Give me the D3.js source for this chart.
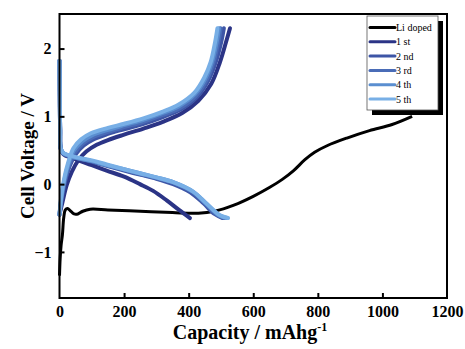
<!DOCTYPE html>
<html>
<head>
<meta charset="utf-8">
<script src="https://cdn.jsdelivr.net/npm/d3@7"></script>
<style>
  html, body { margin: 0; padding: 0; background: #fff; }
  svg { display: block; }
  text { font-family: "Liberation Serif", "Times New Roman", serif; }
</style>
</head>
<body>
<div id="chart"></div>
<script>
// Series data: [capacity mAh/g, voltage V]
const liDoped = [[0,-1.35],[2,-1.1],[5,-0.9],[9,-0.75],[13,-0.5],[18,-0.38],[25,-0.36],[33,-0.39],[45,-0.44],[57,-0.44],[72,-0.40],[95,-0.37],[150,-0.38],[250,-0.40],[350,-0.42],[430,-0.43],[480,-0.40],[540,-0.31],[600,-0.18],[650,-0.05],[690,0.07],[725,0.20],[760,0.36],[790,0.47],[830,0.57],[890,0.68],[960,0.79],[1030,0.88],[1092,1.0]];

const discharge1 = [[0,1.82],[1,1.3],[2,0.8],[4,0.52],[12,0.44],[42,0.38],[100,0.28],[146,0.2],[200,0.11],[249,0.0],[290,-0.1],[332,-0.24],[370,-0.38],[404,-0.5]];
const discharge2 = [[0,1.82],[1,1.3],[2,0.8],[4,0.52],[12,0.45],[42,0.40],[100,0.33],[146,0.27],[200,0.2],[249,0.14],[300,0.08],[352,0.0],[405,-0.12],[445,-0.28],[480,-0.44],[505,-0.5]];
const discharge3 = [[0,1.82],[1,1.3],[2,0.8],[4,0.52],[12,0.45],[42,0.40],[100,0.34],[146,0.28],[200,0.21],[249,0.15],[300,0.09],[352,0.02],[410,-0.11],[450,-0.28],[488,-0.45],[512,-0.5]];
const discharge4 = [[0,1.82],[1,1.3],[2,0.8],[4,0.52],[12,0.46],[42,0.40],[100,0.34],[146,0.28],[200,0.22],[249,0.16],[300,0.10],[352,0.03],[413,-0.11],[455,-0.29],[494,-0.46],[518,-0.5]];
const discharge5 = [[0,1.82],[1,1.3],[2,0.8],[4,0.52],[12,0.46],[42,0.41],[100,0.35],[146,0.29],[200,0.22],[249,0.16],[300,0.10],[352,0.03],[414,-0.11],[456,-0.29],[497,-0.46],[522,-0.5]];

const charge1 = [[0,-0.45],[9,-0.27],[22,-0.02],[38,0.18],[58,0.35],[83,0.48],[115,0.58],[150,0.65],[200,0.73],[260,0.82],[320,0.92],[380,1.05],[430,1.23],[470,1.48],[497,1.8],[516,2.1],[528,2.3]];
const charge2 = [[0,-0.45],[7,-0.22],[17,0.03],[31,0.26],[50,0.44],[75,0.57],[105,0.66],[150,0.74],[200,0.81],[260,0.89],[320,0.99],[375,1.10],[425,1.28],[460,1.52],[484,1.8],[501,2.1],[509,2.3]];
const charge3 = [[0,-0.45],[6,-0.21],[16,0.04],[30,0.28],[48,0.47],[72,0.60],[102,0.69],[150,0.77],[200,0.84],[260,0.92],[320,1.02],[372,1.12],[422,1.30],[455,1.53],[477,1.8],[492,2.1],[499,2.3]];
const charge4 = [[0,-0.45],[6,-0.2],[15,0.06],[28,0.30],[45,0.50],[70,0.63],[100,0.72],[150,0.80],[200,0.87],[260,0.95],[320,1.05],[370,1.15],[420,1.33],[451,1.55],[472,1.8],[487,2.1],[494,2.3]];
const charge5 = [[0,-0.45],[5,-0.2],[14,0.07],[27,0.32],[43,0.53],[67,0.66],[97,0.75],[150,0.83],[200,0.89],[260,0.97],[320,1.07],[368,1.17],[418,1.35],[448,1.57],[468,1.8],[482,2.1],[489,2.3]];

const legendLabels = ['Li doped', '1 st', '2 nd', '3 rd', '4 th', '5 th'];
const seriesColors = ['#000000', '#2b3486', '#3d55a6', '#4a6cb7', '#5a8ed0', '#78afe6'];
const xTicks = [0, 200, 400, 600, 800, 1000, 1200];
const yTicks = [-1, 0, 1, 2];

const width = 465, height = 349;
const margin = { left: 59.5, top: 14, right: 18, bottom: 51 };

const svg = d3.select('#chart').append('svg')
    .attr('width', width)
    .attr('height', height);

const x = d3.scaleLinear().domain([0, 1200]).range([margin.left, width - margin.right]);
const y = d3.scaleLinear().domain([-1.68, 2.51]).range([height - margin.bottom, margin.top]);

const line = d3.line()
    .x(d => x(d[0]))
    .y(d => y(d[1]))
    .curve(d3.curveCatmullRom.alpha(0.5));

// curves
const plot = svg.append('g');
plot.append('path')
    .attr('d', line(liDoped))
    .attr('fill', 'none')
    .attr('stroke', seriesColors[0])
    .attr('stroke-width', 3)
    .attr('stroke-linejoin', 'round');

const cycles = [
    [discharge1, charge1], [discharge2, charge2], [discharge3, charge3],
    [discharge4, charge4], [discharge5, charge5]
];
cycles.forEach((c, i) => {
    c.forEach(seg => {
        plot.append('path')
            .attr('d', line(seg))
            .attr('fill', 'none')
            .attr('stroke', seriesColors[i + 1])
            .attr('stroke-width', 4)
            .attr('stroke-linecap', 'round')
            .attr('stroke-linejoin', 'round');
    });
});

// frame
svg.append('rect')
    .attr('x', margin.left)
    .attr('y', margin.top)
    .attr('width', width - margin.right - margin.left)
    .attr('height', height - margin.bottom - margin.top)
    .attr('fill', 'none')
    .attr('stroke', '#000')
    .attr('stroke-width', 2);

// axes with inward ticks
const fmt = d3.format('d');
const xAxis = svg.append('g')
    .attr('transform', `translate(0,${height - margin.bottom})`)
    .call(d3.axisBottom(x).tickValues(xTicks).tickFormat(fmt).tickSizeInner(-5).tickSizeOuter(0).tickPadding(8));
const yAxis = svg.append('g')
    .attr('transform', `translate(${margin.left},0)`)
    .call(d3.axisLeft(y).tickValues(yTicks).tickFormat(fmt).tickSizeInner(-5).tickSizeOuter(0).tickPadding(8));
[xAxis, yAxis].forEach(a => {
    a.select('.domain').remove();
    a.selectAll('line').attr('stroke-width', 2);
    a.selectAll('text')
        .attr('font-family', '"Liberation Serif", serif')
        .attr('font-weight', 'bold')
        .attr('font-size', 16)
        .attr('fill', '#000');
});
xAxis.selectAll('.tick').filter(d => d === 0 || d === 1200).select('line').remove();

// axis titles
svg.append('text')
    .attr('transform', `translate(34,${(margin.top + height - margin.bottom) / 2}) rotate(-90)`)
    .attr('text-anchor', 'middle')
    .attr('font-weight', 'bold')
    .attr('font-size', 19)
    .text('Cell Voltage / V');

const xt = svg.append('text')
    .attr('x', 250)
    .attr('y', 339)
    .attr('text-anchor', 'middle')
    .attr('font-weight', 'bold')
    .attr('font-size', 20);
xt.append('tspan').text('Capacity / mAhg');
xt.append('tspan').attr('font-size', 12).attr('dy', -8).text('-1');

// legend
const lg = svg.append('g');
lg.append('rect')
    .attr('x', 372).attr('y', 21).attr('width', 71).attr('height', 94)
    .attr('fill', '#000');
lg.append('rect')
    .attr('x', 367).attr('y', 16).attr('width', 71).attr('height', 94)
    .attr('fill', '#fff').attr('stroke', '#555').attr('stroke-width', 0.8);
legendLabels.forEach((lab, i) => {
    const yy = 27.5 + i * 14.3;
    lg.append('line')
        .attr('x1', 370).attr('x2', 395)
        .attr('y1', yy).attr('y2', yy)
        .attr('stroke', seriesColors[i])
        .attr('stroke-width', 3)
        .attr('stroke-linecap', 'round');
    lg.append('text')
        .attr('x', 396).attr('y', yy + 3.5)
        .attr('font-size', 10)
        .text(lab);
});
</script>
</body>
</html>
